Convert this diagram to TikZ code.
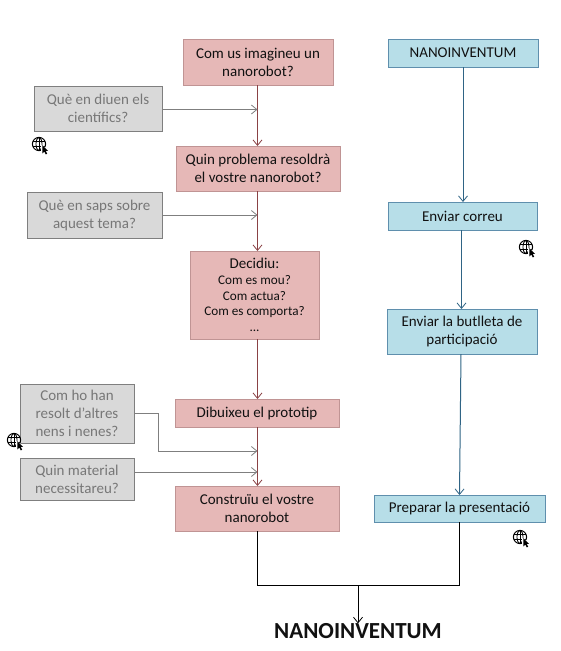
\documentclass[tikz,border=0pt]{standalone}
\usepackage{fontspec}
\setmainfont{Carlito}
\usetikzlibrary{arrows.meta,calc}
\definecolor{pinkfill}{HTML}{E6B8B7}
\definecolor{pinkline}{HTML}{C09494}
\definecolor{pinkarrow}{HTML}{8A4245}
\definecolor{bluefill}{HTML}{B7DEE8}
\definecolor{blueline}{HTML}{5F8FAD}
\definecolor{bluearrow}{HTML}{2F6485}
\definecolor{greyfill}{HTML}{D9D9D9}
\definecolor{greyline}{HTML}{7F7F7F}
\definecolor{greytext}{HTML}{777777}
\definecolor{inktext}{HTML}{111111}
\newcommand{\smalltxt}{\fontsize{13.2}{16}\selectfont}
\tikzset{
  every node/.style={inner sep=0pt,outer sep=0pt},
  boxbase/.style={draw,line width=0.9pt,align=center,font=\fontsize{15}{18}\selectfont},
  pinkbox/.style={boxbase,fill=pinkfill,draw=pinkline,text=inktext},
  bluebox/.style={boxbase,fill=bluefill,draw=blueline,text=inktext},
  greybox/.style={boxbase,fill=greyfill,draw=greyline,text=greytext},
  tipv/.style={-{Straight Barb[length=5.5pt,width=9pt,line width=0.8pt]}},
  pinkflow/.style={tipv,draw=pinkarrow,line width=1pt},
  blueflow/.style={tipv,draw=bluearrow,line width=1pt},
  greyflow/.style={tipv,draw=greyline,line width=1pt},
  blackflow/.style={draw=black,line width=1pt},
  globe/.pic={
    \draw[black,line width=1pt] (0,0) circle[radius=6.6pt];
    \draw[black,line width=0.8pt] (0,0) ellipse[x radius=3pt,y radius=6.6pt];
    \draw[black,line width=0.8pt] (-6.4,-2.4) -- (6.4,-2.4) (-6.4,2.4) -- (6.4,2.4) (0,-6.6) -- (0,6.6);
    \fill[white] (2.2,1) -- (9.5,5.5) -- (7,10) -- (2.2,8) -- cycle;
    \fill[black] (3.4,1.2) -- (3.4,9.4) -- (5.3,7.6) -- (6.8,10.4) -- (8.2,9.6) -- (6.8,7) -- (9,6.8) -- cycle;
  }
}
\begin{document}
\begin{tikzpicture}[x=1pt,y=-1pt]
\useasboundingbox[fill=white] (0,0) rectangle (561,651);
% left column
\node[pinkbox,minimum width=150pt,minimum height=46pt] (p1) at (258,62) {Com us imagineu un\\nanorobot?};
\node[pinkbox,minimum width=164pt,minimum height=45pt] (p2) at (258,168.5) {Quin problema resoldrà\\el vostre nanorobot?};
\node[pinkbox,minimum width=129pt,minimum height=88pt] (p3) at (254.5,295) {Decidiu:\\[-2.2pt]\smalltxt Com es mou?\\[-2.2pt]\smalltxt Com actua?\\[-2.2pt]\smalltxt Com es comporta?\\[-2.2pt]\smalltxt ...};
\node[pinkbox,minimum width=164pt,minimum height=28pt] (p4) at (257,413) {Dibuixeu el prototip};
\node[pinkbox,minimum width=164pt,minimum height=45pt] (p5) at (257,508.5) {Construïu el vostre\\nanorobot};
% grey questions
\node[greybox,minimum width=128pt,minimum height=45pt] (g1) at (98,108.5) {Què en diuen els\\científics?};
\node[greybox,minimum width=135pt,minimum height=46pt] (g2) at (94.5,215) {Què en saps sobre\\aquest tema?};
\node[greybox,minimum width=114pt,minimum height=59pt] (g3) at (77,413.5) {Com ho han\\resolt d’altres\\nens i nenes?};
\node[greybox,minimum width=114pt,minimum height=42pt] (g4) at (77,479) {Quin material\\necessitareu?};
% right column
\node[bluebox,minimum width=150pt,minimum height=28pt] (b1) at (463,53) {NANOINVENTUM};
\node[bluebox,minimum width=149pt,minimum height=28pt] (b2) at (462.5,216) {Enviar correu};
\node[bluebox,minimum width=150pt,minimum height=45pt] (b3) at (462,331.5) {Enviar la butlleta de\\participació};
\node[bluebox,minimum width=171pt,minimum height=27pt] (b4) at (459.5,508.5) {Preparar la presentació};
% title
\node[font=\fontsize{23}{26}\selectfont\bfseries,text=inktext] (title) at (358,631) {NANOINVENTUM};
% targets on the pink trunk
\coordinate (m1) at (257.5,109.5);
\coordinate (m2) at (257.5,215);
\coordinate (m3) at (257.5,451);
\coordinate (m4) at (257.5,472);
\coordinate (j1) at (257.5,585);
\coordinate (j2) at (459.5,585);
\coordinate (j3) at (358,585);
\coordinate (c1) at (461.5,0);
\coordinate (c2) at (461,354);
% pink flow
\draw[pinkflow] (p1.south -| m1) -- (p2.north -| m1);
\draw[pinkflow] (p2.south -| m1) -- (p3.north -| m1);
\draw[pinkflow] (p3.south -| m1) -- (p4.north -| m1);
\draw[pinkflow] (p4.south -| m1) -- (p5.north -| m1);
% grey inputs
\draw[greyflow] (g1.east |- m1) -- (m1);
\draw[greyflow] (g2.east |- m2) -- (m2);
\draw[greyflow] (g3.east) -- ++(24,0) |- (m3);
\draw[greyflow] (g4.east |- m4) -- (m4);
% blue flow
\draw[blueflow] (b1.south) -- (b2.north -| b1.south);
\draw[blueflow] (b2.south -| c1) -- (b3.north -| c1);
\draw[blueflow] (c2) -- (b4.north);
% join
\draw[blackflow] (p5.south -| j1) -- (j1) -- (j2) -- (b4.south -| j2);
\draw[blackflow,tipv] (j3) -- (title.north -| j3);
% web icons
\pic at (39,144) {globe};
\pic at (526,247) {globe};
\pic at (520,537) {globe};
\pic at (14,440) {globe};
\end{tikzpicture}
\end{document}
